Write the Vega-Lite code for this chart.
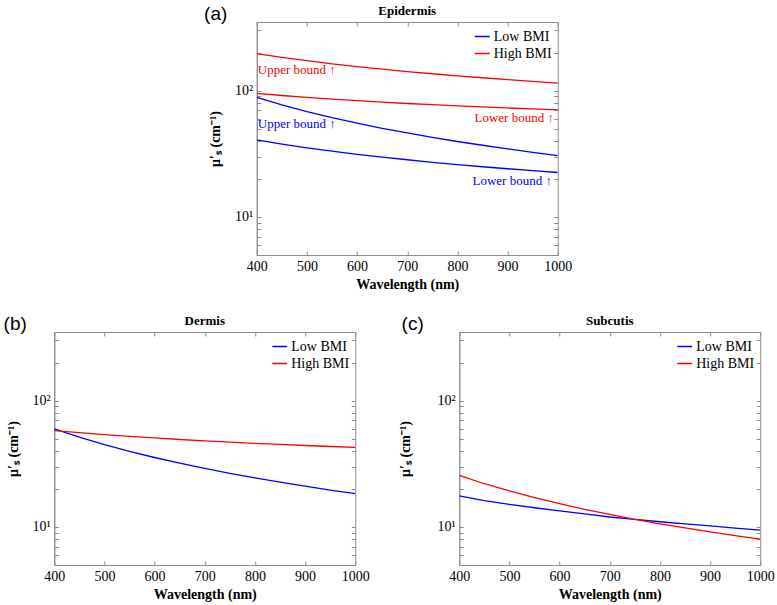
{
  "$schema": "https://vega.github.io/schema/vega-lite/v6.json",
  "padding": {"left": 3, "top": 4, "right": 0, "bottom": 0},
  "datasets": {
    "epidermis": [
      {"group":"High BMI","bound":"Upper","wavelength":400,"value":197},
      {"group":"High BMI","bound":"Upper","wavelength":450,"value":183.8},
      {"group":"High BMI","bound":"Upper","wavelength":500,"value":172.8},
      {"group":"High BMI","bound":"Upper","wavelength":550,"value":163.4},
      {"group":"High BMI","bound":"Upper","wavelength":600,"value":155.3},
      {"group":"High BMI","bound":"Upper","wavelength":650,"value":148.1},
      {"group":"High BMI","bound":"Upper","wavelength":700,"value":141.8},
      {"group":"High BMI","bound":"Upper","wavelength":750,"value":136.2},
      {"group":"High BMI","bound":"Upper","wavelength":800,"value":131.1},
      {"group":"High BMI","bound":"Upper","wavelength":850,"value":126.6},
      {"group":"High BMI","bound":"Upper","wavelength":900,"value":122.4},
      {"group":"High BMI","bound":"Upper","wavelength":950,"value":118.6},
      {"group":"High BMI","bound":"Upper","wavelength":1000,"value":115.0},
      {"group":"High BMI","bound":"Lower","wavelength":400,"value":95.2},
      {"group":"High BMI","bound":"Lower","wavelength":450,"value":91.6},
      {"group":"High BMI","bound":"Lower","wavelength":500,"value":88.5},
      {"group":"High BMI","bound":"Lower","wavelength":550,"value":85.8},
      {"group":"High BMI","bound":"Lower","wavelength":600,"value":83.3},
      {"group":"High BMI","bound":"Lower","wavelength":650,"value":81.2},
      {"group":"High BMI","bound":"Lower","wavelength":700,"value":79.2},
      {"group":"High BMI","bound":"Lower","wavelength":750,"value":77.5},
      {"group":"High BMI","bound":"Lower","wavelength":800,"value":75.8},
      {"group":"High BMI","bound":"Lower","wavelength":850,"value":74.4},
      {"group":"High BMI","bound":"Lower","wavelength":900,"value":73.0},
      {"group":"High BMI","bound":"Lower","wavelength":950,"value":71.7},
      {"group":"High BMI","bound":"Lower","wavelength":1000,"value":70.5},
      {"group":"Low BMI","bound":"Upper","wavelength":400,"value":88.6},
      {"group":"Low BMI","bound":"Upper","wavelength":450,"value":77.3},
      {"group":"Low BMI","bound":"Upper","wavelength":500,"value":68.4},
      {"group":"Low BMI","bound":"Upper","wavelength":550,"value":61.2},
      {"group":"Low BMI","bound":"Upper","wavelength":600,"value":55.4},
      {"group":"Low BMI","bound":"Upper","wavelength":650,"value":50.4},
      {"group":"Low BMI","bound":"Upper","wavelength":700,"value":46.3},
      {"group":"Low BMI","bound":"Upper","wavelength":750,"value":42.7},
      {"group":"Low BMI","bound":"Upper","wavelength":800,"value":39.6},
      {"group":"Low BMI","bound":"Upper","wavelength":850,"value":37.0},
      {"group":"Low BMI","bound":"Upper","wavelength":900,"value":34.6},
      {"group":"Low BMI","bound":"Upper","wavelength":950,"value":32.5},
      {"group":"Low BMI","bound":"Upper","wavelength":1000,"value":30.6},
      {"group":"Low BMI","bound":"Lower","wavelength":400,"value":40.8},
      {"group":"Low BMI","bound":"Lower","wavelength":450,"value":37.8},
      {"group":"Low BMI","bound":"Lower","wavelength":500,"value":35.3},
      {"group":"Low BMI","bound":"Lower","wavelength":550,"value":33.2},
      {"group":"Low BMI","bound":"Lower","wavelength":600,"value":31.3},
      {"group":"Low BMI","bound":"Lower","wavelength":650,"value":29.8},
      {"group":"Low BMI","bound":"Lower","wavelength":700,"value":28.4},
      {"group":"Low BMI","bound":"Lower","wavelength":750,"value":27.1},
      {"group":"Low BMI","bound":"Lower","wavelength":800,"value":26.0},
      {"group":"Low BMI","bound":"Lower","wavelength":850,"value":25.0},
      {"group":"Low BMI","bound":"Lower","wavelength":900,"value":24.1},
      {"group":"Low BMI","bound":"Lower","wavelength":950,"value":23.3},
      {"group":"Low BMI","bound":"Lower","wavelength":1000,"value":22.5}
    ],
    "epiLabels": [
      {"group":"High BMI","bound":"Upper","wavelength":402,"value":146.8,"label":"Upper bound ↑"},
      {"group":"Low BMI","bound":"Upper","wavelength":402,"value":54.5,"label":"Upper bound ↑"},
      {"group":"High BMI","bound":"Lower","wavelength":834,"value":60.7,"label":"Lower bound ↑"},
      {"group":"Low BMI","bound":"Lower","wavelength":830,"value":19.1,"label":"Lower bound ↑"}
    ],
    "dermis": [
      {"group":"Low BMI","wavelength":400,"value":59.8},
      {"group":"Low BMI","wavelength":450,"value":51.4},
      {"group":"Low BMI","wavelength":500,"value":44.9},
      {"group":"Low BMI","wavelength":550,"value":39.7},
      {"group":"Low BMI","wavelength":600,"value":35.5},
      {"group":"Low BMI","wavelength":650,"value":32.0},
      {"group":"Low BMI","wavelength":700,"value":29.1},
      {"group":"Low BMI","wavelength":750,"value":26.6},
      {"group":"Low BMI","wavelength":800,"value":24.5},
      {"group":"Low BMI","wavelength":850,"value":22.7},
      {"group":"Low BMI","wavelength":900,"value":21.1},
      {"group":"Low BMI","wavelength":950,"value":19.6},
      {"group":"Low BMI","wavelength":1000,"value":18.4},
      {"group":"High BMI","wavelength":400,"value":58.0},
      {"group":"High BMI","wavelength":450,"value":55.8},
      {"group":"High BMI","wavelength":500,"value":53.8},
      {"group":"High BMI","wavelength":550,"value":52.1},
      {"group":"High BMI","wavelength":600,"value":50.7},
      {"group":"High BMI","wavelength":650,"value":49.3},
      {"group":"High BMI","wavelength":700,"value":48.1},
      {"group":"High BMI","wavelength":750,"value":47.0},
      {"group":"High BMI","wavelength":800,"value":46.0},
      {"group":"High BMI","wavelength":850,"value":45.1},
      {"group":"High BMI","wavelength":900,"value":44.2},
      {"group":"High BMI","wavelength":950,"value":43.4},
      {"group":"High BMI","wavelength":1000,"value":42.7}
    ],
    "subcutis": [
      {"group":"Low BMI","wavelength":400,"value":17.6},
      {"group":"Low BMI","wavelength":450,"value":16.2},
      {"group":"Low BMI","wavelength":500,"value":15.1},
      {"group":"Low BMI","wavelength":550,"value":14.2},
      {"group":"Low BMI","wavelength":600,"value":13.4},
      {"group":"Low BMI","wavelength":650,"value":12.7},
      {"group":"Low BMI","wavelength":700,"value":12.0},
      {"group":"Low BMI","wavelength":750,"value":11.5},
      {"group":"Low BMI","wavelength":800,"value":11.0},
      {"group":"Low BMI","wavelength":850,"value":10.6},
      {"group":"Low BMI","wavelength":900,"value":10.2},
      {"group":"Low BMI","wavelength":950,"value":9.79},
      {"group":"Low BMI","wavelength":1000,"value":9.46},
      {"group":"High BMI","wavelength":400,"value":25.6},
      {"group":"High BMI","wavelength":450,"value":22.0},
      {"group":"High BMI","wavelength":500,"value":19.3},
      {"group":"High BMI","wavelength":550,"value":17.1},
      {"group":"High BMI","wavelength":600,"value":15.3},
      {"group":"High BMI","wavelength":650,"value":13.8},
      {"group":"High BMI","wavelength":700,"value":12.6},
      {"group":"High BMI","wavelength":750,"value":11.5},
      {"group":"High BMI","wavelength":800,"value":10.6},
      {"group":"High BMI","wavelength":850,"value":9.83},
      {"group":"High BMI","wavelength":900,"value":9.14},
      {"group":"High BMI","wavelength":950,"value":8.53},
      {"group":"High BMI","wavelength":1000,"value":8.0}
    ]
  },
  "center": true,
  "spacing": 22,
  "resolve": {"scale": {"color": "independent"}, "legend": {"color": "independent"}},
  "vconcat": [
    {
      "title": {"text": "(a)", "anchor": "start", "font": "Liberation Sans", "fontSize": 19, "fontWeight": "normal", "dy": 20, "dx": -4, "offset": 0},
      "resolve": {"scale": {"color": "independent"}, "legend": {"color": "independent"}},
      "vconcat": [
        {
          "width": 301, "height": 233,
          "title": {"text": "Epidermis", "offset": 4},
          "resolve": {"axis": {"x": "independent", "y": "independent"}},
          "layer": [
            {
              "data": {"name": "epidermis"},
              "mark": {"type": "line", "strokeWidth": 1.3, "clip": true},
              "encoding": {
                "x": {"field": "wavelength", "type": "quantitative", "scale": {"domain": [400, 1000]},
                      "axis": {"orient": "bottom", "title": "Wavelength (nm)", "values": [400,500,600,700,800,900,1000], "format": "d"}},
                "y": {"field": "value", "type": "quantitative", "scale": {"type": "log", "domain": [5, 350]},
                      "axis": {"orient": "left", "title": "μ′ₛ (cm⁻¹)", "values": [5,6,7,8,9,10,20,30,40,50,60,70,80,90,100,200,300], "labelOverlap": false,
                               "labelExpr": "datum.value == 10 ? '10¹' : datum.value == 100 ? '10²' : ''"}},
                "color": {"field": "group", "type": "nominal", "scale": {"domain": ["Low BMI", "High BMI"], "range": ["#0000ff", "#ff0000"]}},
                "detail": {"field": "bound"}
              }
            },
            {
              "data": {"name": "epidermis"},
              "mark": {"type": "point", "opacity": 0},
              "encoding": {
                "x": {"field": "wavelength", "type": "quantitative", "scale": {"domain": [400, 1000]}, "axis": {"orient": "top", "labels": false, "title": null, "domain": false, "values": [400,500,600,700,800,900,1000]}},
                "y": {"field": "value", "type": "quantitative", "scale": {"type": "log", "domain": [5, 350]}, "axis": {"orient": "right", "labels": false, "title": null, "domain": false, "values": [5,6,7,8,9,10,20,30,40,50,60,70,80,90,100,200,300]}}
              }
            },
            {
              "data": {"name": "epiLabels"},
              "transform": [{"filter": "datum.group == 'High BMI'"}],
              "mark": {"type": "text", "align": "left", "baseline": "middle", "fontSize": 13, "font": "Liberation Serif", "color": "#ff0000"},
              "encoding": {
                "x": {"field": "wavelength", "type": "quantitative", "scale": {"domain": [400, 1000]}, "axis": null},
                "y": {"field": "value", "type": "quantitative", "scale": {"type": "log", "domain": [5, 350]}, "axis": null},
                "text": {"field": "label"}
              }
            },
            {
              "data": {"name": "epiLabels"},
              "transform": [{"filter": "datum.group == 'Low BMI'"}],
              "mark": {"type": "text", "align": "left", "baseline": "middle", "fontSize": 13, "font": "Liberation Serif", "color": "#0000ff"},
              "encoding": {
                "x": {"field": "wavelength", "type": "quantitative", "scale": {"domain": [400, 1000]}, "axis": null},
                "y": {"field": "value", "type": "quantitative", "scale": {"type": "log", "domain": [5, 350]}, "axis": null},
                "text": {"field": "label"}
              }
            }
          ]
        }
      ]
    },
    {
      "spacing": 27,
      "resolve": {"scale": {"color": "independent"}, "legend": {"color": "independent"}},
      "hconcat": [
        {
          "title": {"text": "(b)", "anchor": "start", "font": "Liberation Sans", "fontSize": 19, "fontWeight": "normal", "dy": 20, "dx": -2, "offset": 0},
          "resolve": {"scale": {"color": "independent"}, "legend": {"color": "independent"}},
          "vconcat": [
            {
              "width": 301, "height": 233,
              "title": {"text": "Dermis", "offset": 4},
              "resolve": {"axis": {"x": "independent", "y": "independent"}},
              "layer": [
                {
                  "data": {"name": "dermis"},
                  "mark": {"type": "line", "strokeWidth": 1.3, "clip": true},
                  "encoding": {
                    "x": {"field": "wavelength", "type": "quantitative", "scale": {"domain": [400, 1000]},
                          "axis": {"orient": "bottom", "title": "Wavelength (nm)", "values": [400,500,600,700,800,900,1000], "format": "d"}},
                    "y": {"field": "value", "type": "quantitative", "scale": {"type": "log", "domain": [5, 350]},
                          "axis": {"orient": "left", "title": "μ′ₛ (cm⁻¹)", "values": [5,6,7,8,9,10,20,30,40,50,60,70,80,90,100,200,300], "labelOverlap": false,
                                   "labelExpr": "datum.value == 10 ? '10¹' : datum.value == 100 ? '10²' : ''"}},
                    "color": {"field": "group", "type": "nominal", "scale": {"domain": ["Low BMI", "High BMI"], "range": ["#0000ff", "#ff0000"]}}
                  }
                },
                {
                  "data": {"name": "dermis"},
                  "mark": {"type": "point", "opacity": 0},
                  "encoding": {
                    "x": {"field": "wavelength", "type": "quantitative", "scale": {"domain": [400, 1000]}, "axis": {"orient": "top", "labels": false, "title": null, "domain": false, "values": [400,500,600,700,800,900,1000]}},
                    "y": {"field": "value", "type": "quantitative", "scale": {"type": "log", "domain": [5, 350]}, "axis": {"orient": "right", "labels": false, "title": null, "domain": false, "values": [5,6,7,8,9,10,20,30,40,50,60,70,80,90,100,200,300]}}
                  }
                }
              ]
            }
          ]
        },
        {
          "title": {"text": "(c)", "anchor": "start", "font": "Liberation Sans", "fontSize": 19, "fontWeight": "normal", "dy": 20, "dx": 4, "offset": 0},
          "resolve": {"scale": {"color": "independent"}, "legend": {"color": "independent"}},
          "vconcat": [
            {
              "width": 301, "height": 233,
              "title": {"text": "Subcutis", "offset": 4},
              "resolve": {"axis": {"x": "independent", "y": "independent"}},
              "layer": [
                {
                  "data": {"name": "subcutis"},
                  "mark": {"type": "line", "strokeWidth": 1.3, "clip": true},
                  "encoding": {
                    "x": {"field": "wavelength", "type": "quantitative", "scale": {"domain": [400, 1000]},
                          "axis": {"orient": "bottom", "title": "Wavelength (nm)", "values": [400,500,600,700,800,900,1000], "format": "d"}},
                    "y": {"field": "value", "type": "quantitative", "scale": {"type": "log", "domain": [5, 350]},
                          "axis": {"orient": "left", "title": "μ′ₛ (cm⁻¹)", "titlePadding": 25, "values": [5,6,7,8,9,10,20,30,40,50,60,70,80,90,100,200,300], "labelOverlap": false,
                                   "labelExpr": "datum.value == 10 ? '10¹' : datum.value == 100 ? '10²' : ''"}},
                    "color": {"field": "group", "type": "nominal", "scale": {"domain": ["Low BMI", "High BMI"], "range": ["#0000ff", "#ff0000"]}}
                  }
                },
                {
                  "data": {"name": "subcutis"},
                  "mark": {"type": "point", "opacity": 0},
                  "encoding": {
                    "x": {"field": "wavelength", "type": "quantitative", "scale": {"domain": [400, 1000]}, "axis": {"orient": "top", "labels": false, "title": null, "domain": false, "values": [400,500,600,700,800,900,1000]}},
                    "y": {"field": "value", "type": "quantitative", "scale": {"type": "log", "domain": [5, 350]}, "axis": {"orient": "right", "labels": false, "title": null, "domain": false, "values": [5,6,7,8,9,10,20,30,40,50,60,70,80,90,100,200,300]}}
                  }
                }
              ]
            }
          ]
        }
      ]
    }
  ],
  "config": {
    "font": "Liberation Serif",
    "view": {"stroke": "#8c8c8c", "strokeWidth": 1},
    "axis": {
      "grid": false,
      "domainColor": "#8c8c8c",
      "tickColor": "#8c8c8c",
      "tickSize": -4,
      "labelPadding": 8,
      "labelFlush": false,
      "labelFont": "Liberation Serif",
      "labelFontSize": 14,
      "labelColor": "black",
      "titleFont": "Liberation Serif",
      "titleFontSize": 14,
      "titleFontWeight": "bold",
      "titleColor": "black",
      "titlePadding": 12
    },
    "axisX": {"titlePadding": 4},
    "title": {"font": "Liberation Serif", "fontSize": 13, "fontWeight": "bold", "color": "black"},
    "legend": {
      "title": null,
      "orient": "top-right",
      "offset": 6,
      "padding": 0,
      "labelFont": "Liberation Serif",
      "labelFontSize": 14,
      "labelColor": "black",
      "symbolType": "stroke",
      "symbolSize": 220,
      "symbolStrokeWidth": 1.5,
      "rowPadding": 1,
      "labelOffset": 3
    }
  }
}
